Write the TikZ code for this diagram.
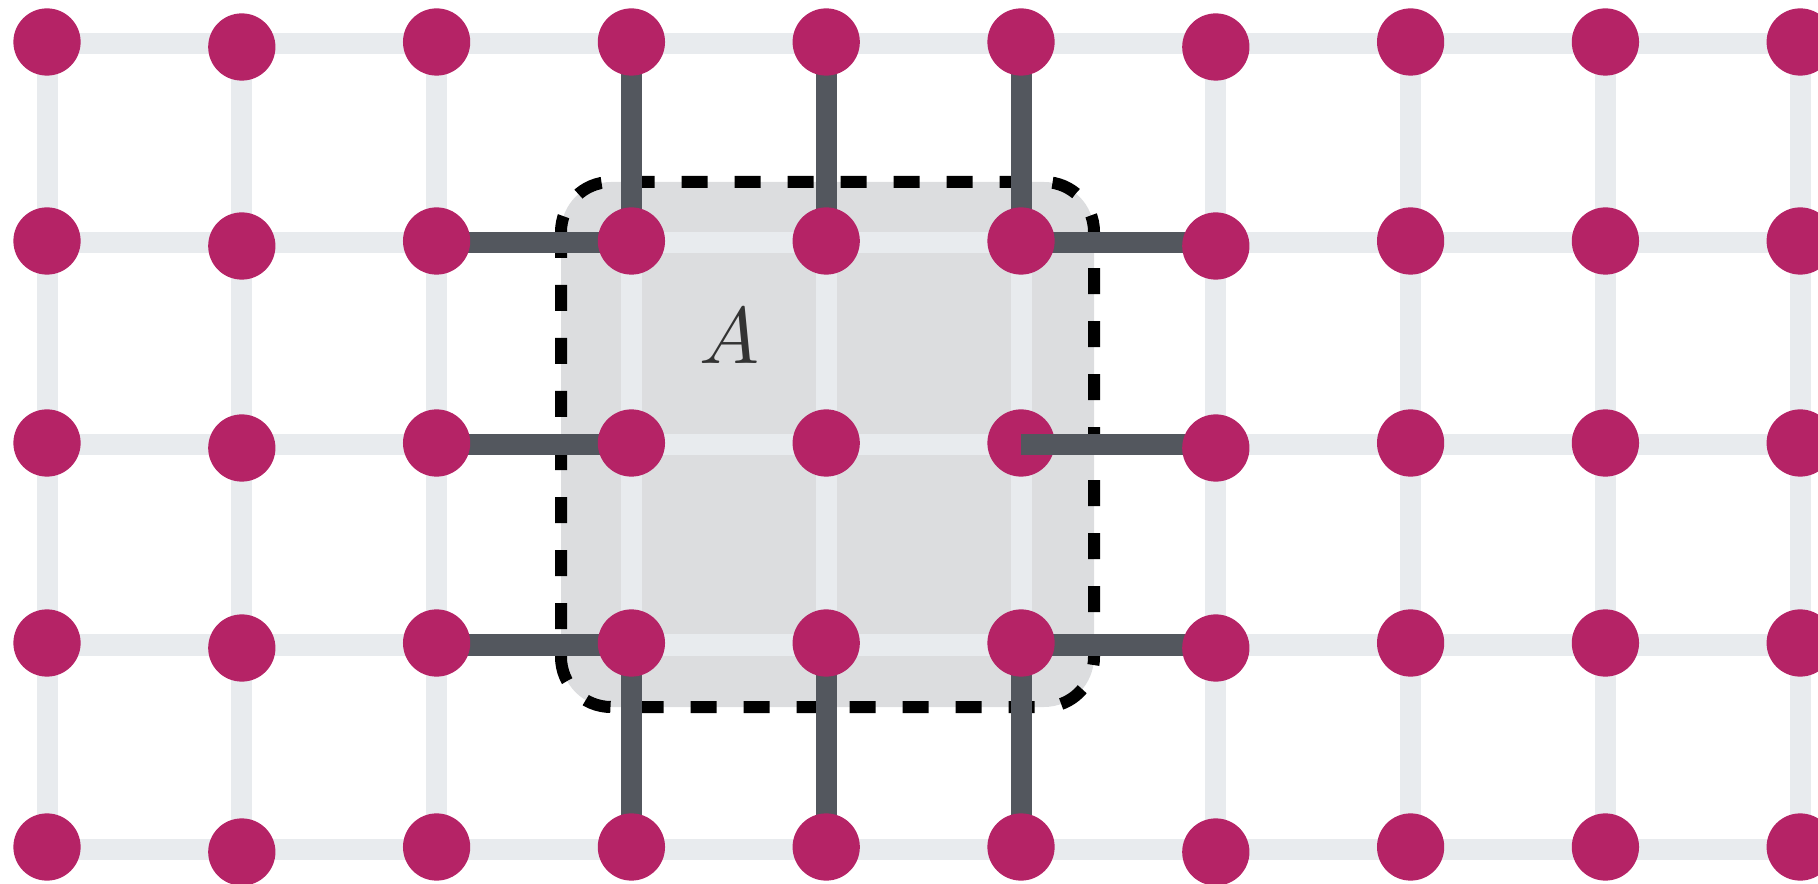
\documentclass[tikz,border=0pt]{standalone}
\usepackage{graphicx}
\definecolor{siteMag}{RGB}{181,35,102}
\definecolor{bondLight}{RGB}{232,235,238}
\definecolor{cutDark}{RGB}{83,87,94}
\definecolor{regionGray}{RGB}{220,221,223}
\definecolor{labelInk}{RGB}{51,51,51}
\begin{document}
\begin{tikzpicture}[x=0.4pt,y=-0.4pt,
  site/.style={circle,fill=siteMag,draw=none,minimum size=26.9pt,inner sep=0pt},
  bond/.style={line width=8.4pt,draw=bondLight},
  cutbond/.style={line width=8.4pt,draw=cutDark},
  regionfill/.style={fill=regionGray,rounded corners=20pt},
  regionedge/.style={draw=black,line width=4.8pt,dash pattern=on 10.4pt off 10.8pt,rounded corners=20pt}]
\useasboundingbox (0,0) rectangle (1818,884);
\clip (0,0) rectangle (1818,884);

% lattice points
\foreach \c in {0,...,9}{
  \foreach \r/\yy in {0/44,1/243,2/445,3/645,4/849}{
    \coordinate (g-\c-\r) at ({47+194.8*\c},\yy);
  }
}

% shaded region A
\path[regionfill] (561,182) rectangle (1094,707);

% light lattice bonds
\foreach \r in {0,...,4}{ \draw[bond] (g-0-\r) -- (g-9-\r); }
\foreach \c in {0,...,9}{ \draw[bond] (g-\c-0) -- (g-\c-4); }

% dashed boundary of region A
\path[regionedge] (561,182) rectangle (1094,707);

% bonds cut by the boundary
\foreach \r in {1,2,3}{ \draw[cutbond] (g-2-\r) -- (g-3-\r); }
\draw[cutbond] (g-5-1) -- (g-6-1);
\draw[cutbond] (g-5-3) -- (g-6-3);
\foreach \c in {3,4,5}{
  \draw[cutbond] (g-\c-0) -- (g-\c-1);
  \draw[cutbond] (g-\c-3) -- (g-\c-4);
}

% sites, columns 0 to 5
\foreach \c in {0,...,5}{
  \foreach \r in {0,...,4}{
    \pgfmathsetmacro\dy{(\c==1) ? -1.2 : 0.8}
    \node[site] (n-\c-\r) at ([yshift=\dy pt]g-\c-\r) {};
  }
}

% this cut bond lies over its left site
\draw[cutbond] (g-5-2) -- (g-6-2);

% sites, columns 6 to 9
\foreach \c in {6,...,9}{
  \foreach \r in {0,...,4}{
    \pgfmathsetmacro\dy{(\c==6) ? -1.2 : 0.8}
    \node[site] (n-\c-\r) at ([yshift=\dy pt]g-\c-\r) {};
  }
}

% region label
\node[text=labelInk,inner sep=0pt] (lblA) at (729,336) {\scalebox{3.2}{$A$}};
\end{tikzpicture}
\end{document}
